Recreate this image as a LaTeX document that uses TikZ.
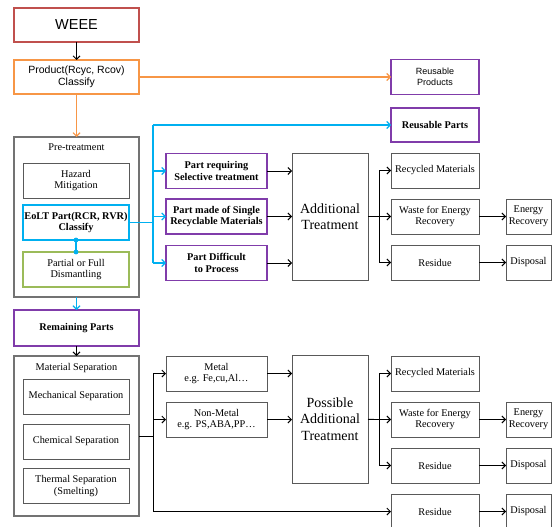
\documentclass[tikz,border=0pt]{standalone}
\usepackage{fontspec}
\setmainfont{Liberation Serif}
\setsansfont{Liberation Sans}
\usetikzlibrary{positioning, calc, arrows.meta}
\definecolor{cred}{RGB}{192,80,77}
\definecolor{corange}{RGB}{247,150,70}
\definecolor{cpurple}{RGB}{128,60,170}
\definecolor{cblue}{RGB}{0,176,240}
\definecolor{cgreen}{RGB}{155,187,89}
\tikzset{dbox/.style={draw=#1, line width=1.1pt, inner sep=1pt, outer sep=0pt, align=center, font=\fontsize{10.3}{11.8}\selectfont}}
\tikzset{wide/.style={minimum width=125, minimum height=34}}
\tikzset{mid/.style={minimum width=101, minimum height=35}}
\tikzset{inner/.style={dbox=black!65, line width=1pt, minimum width=106, minimum height=35}}
\tikzset{res/.style={dbox=black!65, line width=1pt, minimum width=88, minimum height=35}}
\tikzset{fin/.style={dbox=black!65, line width=1pt, minimum width=45, minimum height=35}}
\tikzset{sans/.style={font=\sffamily\fontsize{9}{10.5}\selectfont}}
\tikzset{arr/.style={draw, -{Straight Barb[length=3.5pt, width=7pt]}, line width=0.9pt}}
\tikzset{lin/.style={draw, line width=0.9pt}}
\begin{document}
\begin{tikzpicture}[x=1pt, y=-1pt]
\clip (0,0) rectangle (552,527);
\fill[white] (0,0) rectangle (552,527);
% upper stage
\node[dbox=cred, wide, font=\sffamily\fontsize{14.5}{16}\selectfont] (weee) at (76.5,25) {WEEE};
\node[dbox=corange, wide, font=\sffamily\fontsize{10.5}{11.5}\selectfont] (prod) at (76.5,77) {Product(Rcyc, Rcov)\\Classify};
\node[dbox=cpurple, minimum width=88, minimum height=35, sans] (reuseprod) at (435,77) {Reusable\\Products};
\node[dbox=cpurple, minimum width=88, minimum height=34] (reusepart) at (435,125) {\bfseries Reusable Parts};
\node[dbox=black!55, minimum width=125, minimum height=160] (pretreat) at (76.5,217) {};
\node[below=7pt of pretreat.north, font=\fontsize{10.3}{11}\selectfont, inner sep=0pt] (pretitle) {Pre-treatment};
\node[inner] (hazard) at (76,180.5) {Hazard\\Mitigation};
\node[inner, dbox=cblue] (eolt) at (76,222.5) {\bfseries EoLT Part(RCR, RVR)\\\bfseries Classify};
\node[inner, dbox=cgreen] (dismant) at (76,269.5) {Partial or Full\\Dismantling};
\node[dbox=cpurple, mid] (selective) at (216.5,171) {\bfseries Part requiring\\\bfseries Selective treatment};
\node[dbox=cpurple, mid] (single) at (216.5,216.5) {\bfseries Part made of Single\\\bfseries Recyclable Materials};
\node[dbox=cpurple, mid] (difficult) at (216.5,263) {\bfseries Part Difficult\\\bfseries to Process};
\node[dbox=black!65, line width=1pt, minimum width=76, minimum height=127, font=\fontsize{14}{16.5}\selectfont] (addtreat) at (330,216.5) {Additional\\Treatment};
\node[res] (recyca) at (435,170.5) {Recycled Materials};
\node[res] (wastea) at (435,216.5) {Waste for Energy\\Recovery};
\node[res] (resida) at (435,262.5) {Residue};
\node[fin] (energya) at (528.5,216.5) {Energy\\Recovery};
\node[fin] (dispa) at (528.5,262.5) {Disposal};
% lower stage
\node[dbox=cpurple, minimum width=125, minimum height=36] (remain) at (76.5,328) {\bfseries Remaining Parts};
\node[dbox=black!55, minimum width=125, minimum height=160] (matsep) at (76.5,436) {};
\node[below=7pt of matsep.north, font=\fontsize{10.3}{11}\selectfont, inner sep=0pt] (septitle) {Material Separation};
\node[inner] (mech) at (76,396.5) {Mechanical Separation};
\node[inner] (chem) at (76,441.5) {Chemical Separation};
\node[inner] (therm) at (76,486) {Thermal Separation\\(Smelting)};
\node[dbox=black!65, line width=1pt, mid] (metal) at (216.5,373.5) {Metal\\e.g. Fe,cu,Al…};
\node[dbox=black!65, line width=1pt, mid] (nonmetal) at (216.5,419.5) {Non-Metal\\e.g. PS,ABA,PP…};
\node[dbox=black!65, line width=1pt, minimum width=76, minimum height=128, font=\fontsize{14}{16.5}\selectfont] (posstreat) at (330,419) {Possible\\Additional\\Treatment};
\node[res] (recycb) at (435,373.5) {Recycled Materials};
\node[res] (wasteb) at (435,419.5) {Waste for Energy\\Recovery};
\node[res] (residb) at (435,465.5) {Residue};
\node[fin] (energyb) at (528.5,419.5) {Energy\\Recovery};
\node[fin] (dispb) at (528.5,465.5) {Disposal};
\node[res] (residc) at (435,511.5) {Residue};
\node[fin] (dispc) at (528.5,511.5) {Disposal};
% connectors, upper
\draw[arr] (weee) -- (prod);
\draw[arr, corange, line width=1.1pt] (prod) -- (reuseprod);
\draw[arr, corange, line width=1.1pt] (prod) -- (pretreat);
\coordinate (bsplit) at (153,222.5);
\draw[lin, cblue, line width=1.1pt] (eolt) -- (bsplit);
\draw[lin, cblue, line width=1.1pt] (bsplit |- reusepart) -- (bsplit |- difficult);
\foreach \n in {reusepart, selective, single, difficult}
  \draw[arr, cblue, line width=1.1pt] (bsplit |- \n) -- (\n);
\draw[cblue, line width=1.1pt] (eolt.south) -- (dismant.north);
\fill[cblue] (eolt.south) circle (2.4) (dismant.north) circle (2.4);
\foreach \n in {selective, single, difficult}
  \draw[arr] (\n.east) -- (\n.east -| addtreat.west);
\coordinate (asplit) at (379,216.5);
\draw[lin] (addtreat) -- (asplit);
\draw[lin] (asplit |- recyca) -- (asplit |- resida);
\foreach \n in {recyca, wastea, resida}
  \draw[arr] (asplit |- \n) -- (\n);
\draw[arr] (wastea) -- (energya);
\draw[arr] (resida) -- (dispa);
% connectors, lower
\draw[arr, cblue, line width=1.1pt] (pretreat) -- (remain);
\draw[arr] (remain) -- (matsep);
\coordinate (msplit) at (153,436);
\draw[lin] (matsep) -- (msplit);
\draw[lin] (msplit |- metal) -- (msplit |- residc);
\foreach \n in {metal, nonmetal, residc}
  \draw[arr] (msplit |- \n) -- (\n);
\foreach \n in {metal, nonmetal}
  \draw[arr] (\n.east) -- (\n.east -| posstreat.west);
\coordinate (psplit) at (379,419.5);
\draw[lin] (posstreat) -- (psplit);
\draw[lin] (psplit |- recycb) -- (psplit |- residb);
\foreach \n in {recycb, wasteb, residb}
  \draw[arr] (psplit |- \n) -- (\n);
\draw[arr] (wasteb) -- (energyb);
\draw[arr] (residb) -- (dispb);
\draw[arr] (residc) -- (dispc);
\end{tikzpicture}
\end{document}
